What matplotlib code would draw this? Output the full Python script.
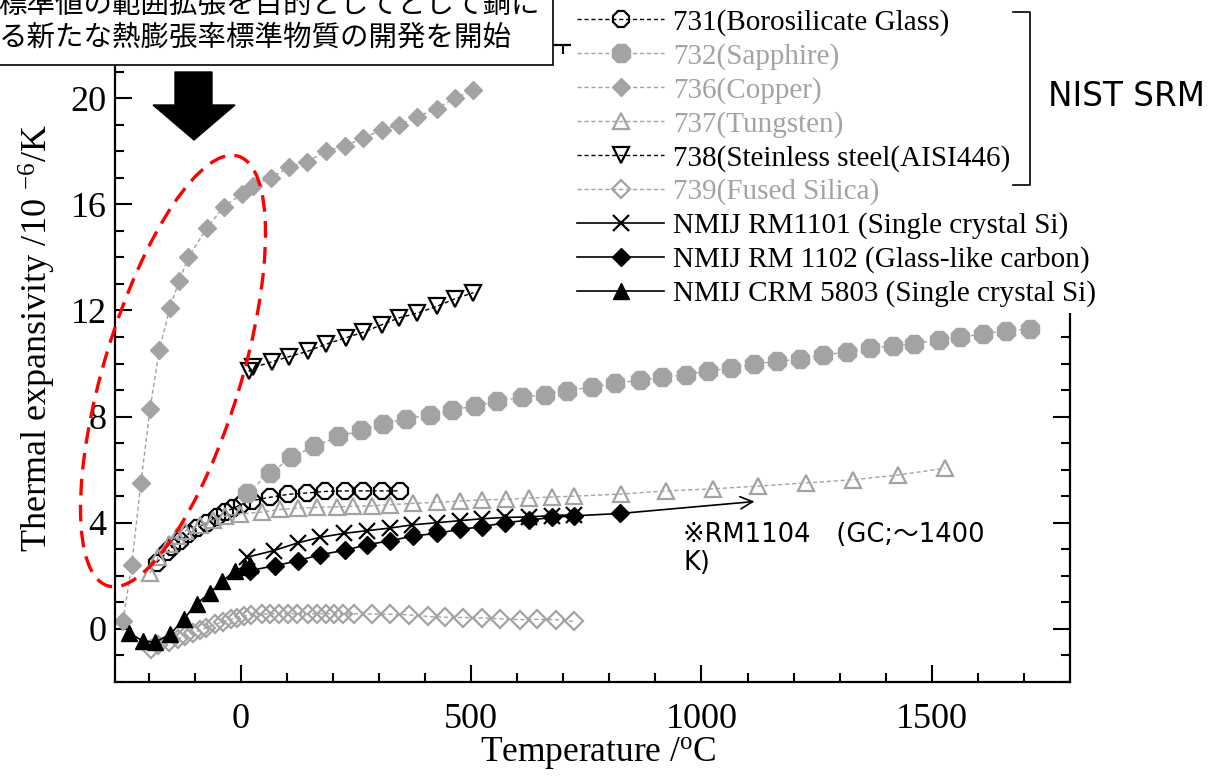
import numpy as np
import matplotlib
matplotlib.use('Agg')
import matplotlib.pyplot as plt
from matplotlib.lines import Line2D
from matplotlib.patches import Rectangle, Ellipse, Polygon

plt.rcParams['font.family'] = ['Liberation Serif', 'Noto Sans CJK JP']
plt.rcParams['mathtext.fontset'] = 'custom'
plt.rcParams['mathtext.rm'] = 'Liberation Serif'
plt.rcParams['mathtext.it'] = 'Liberation Serif:italic'

# ---- data ----
# NIST SRM 731 borosilicate glass
T_731 = [-183, -161, -150, -132, -114, -96, -74, -52, -34, -16, 2, 24, 63, 103, 143, 183, 226, 266, 306, 346]
a_731 = [2.5, 2.88, 3.07, 3.32, 3.57, 3.8, 4.0, 4.2, 4.4, 4.55, 4.7, 4.83, 4.96, 5.07, 5.12, 5.18, 5.2, 5.2, 5.2, 5.2]

# NIST SRM 732 sapphire
T_732 = [13, 63, 110, 159, 212, 261, 308, 359, 411, 459, 508, 557, 610, 660, 707, 762, 813, 866, 915, 966,
         1015, 1064, 1113, 1165, 1214, 1263, 1316, 1365, 1415, 1462, 1515, 1562, 1611, 1660, 1714]
a_732 = [5.12, 5.86, 6.46, 6.88, 7.25, 7.48, 7.72, 7.92, 8.06, 8.26, 8.39, 8.58, 8.73, 8.83, 8.98, 9.11, 9.25, 9.37, 9.48, 9.57,
         9.73, 9.82, 9.98, 10.08, 10.17, 10.33, 10.42, 10.57, 10.67, 10.73, 10.9, 10.99, 11.11, 11.24, 11.3]

# NIST SRM 736 copper
T_736 = [-256, -237, -217, -197, -177, -154, -134, -114, -74, -37, 3, 27, 65, 105, 144, 184, 226, 266, 306, 344, 383, 425, 465, 505]
a_736 = [0.3, 2.4, 5.5, 8.3, 10.5, 12.1, 13.1, 14.0, 15.1, 15.9, 16.4, 16.7, 17.0, 17.4, 17.6, 18.0, 18.2, 18.5, 18.8, 19.0, 19.3, 19.6, 20.0, 20.3]

# NIST SRM 737 tungsten
T_737 = [-197, -179, -157, -139, -121, -89, -60, -34, -2, 45, 85, 125, 165, 208, 244, 284, 324, 374, 425, 476,
         523, 575, 626, 675, 723, 825, 924, 1026, 1123, 1226, 1329, 1427, 1528]
a_737 = [2.1, 2.7, 3.2, 3.5, 3.7, 3.9, 4.1, 4.25, 4.33, 4.4, 4.5, 4.55, 4.58, 4.6, 4.62, 4.64, 4.68, 4.73, 4.77, 4.82,
         4.86, 4.88, 4.93, 4.97, 5.0, 5.08, 5.2, 5.28, 5.38, 5.5, 5.62, 5.8, 6.05]

# NIST SRM 738 stainless steel
T_738 = [17, 27, 67, 105, 145, 184, 228, 266, 306, 343, 383, 425, 465, 505]
a_738 = [9.7, 9.85, 10.06, 10.26, 10.46, 10.72, 10.97, 11.18, 11.46, 11.72, 11.9, 12.15, 12.44, 12.67]

# NIST SRM 739 fused silica
T_739 = [-194, -180, -156, -137, -121, -103, -89, -75, -56, -39, -22, -8, 7, 21, 45, 64, 83, 102, 122, 146,
         165, 184, 203, 222, 246, 284, 324, 364, 407, 443, 483, 523, 563, 605, 644, 684, 723]
a_739 = [-0.75, -0.62, -0.5, -0.38, -0.26, -0.14, -0.05, 0.05, 0.17, 0.27, 0.36, 0.43, 0.49, 0.53, 0.56, 0.57, 0.57, 0.57, 0.57, 0.57,
         0.57, 0.57, 0.57, 0.57, 0.57, 0.56, 0.55, 0.53, 0.47, 0.44, 0.43, 0.42, 0.38, 0.35, 0.36, 0.35, 0.28]

# NMIJ RM1101 single crystal Si
T_1101 = [13, 71, 125, 172, 224, 273, 324, 371, 425, 476, 523, 573, 625, 675, 723]
a_1101 = [2.7, 2.95, 3.25, 3.45, 3.6, 3.7, 3.8, 3.92, 4.0, 4.08, 4.15, 4.2, 4.22, 4.27, 4.3]

# NMIJ RM1102 glass-like carbon
T_1102 = [20, 74, 125, 172, 226, 273, 324, 373, 425, 476, 523, 573, 626, 675, 723, 824]
a_1102 = [2.2, 2.38, 2.57, 2.8, 2.96, 3.17, 3.32, 3.5, 3.6, 3.75, 3.85, 4.0, 4.1, 4.2, 4.26, 4.35]

# NMIJ CRM5803 single crystal Si
T_5803 = [-243, -213, -186, -153, -124, -96, -68, -40, -12, 8, 20]
a_5803 = [-0.15, -0.45, -0.5, -0.2, 0.37, 0.95, 1.35, 1.8, 2.2, 2.35, 2.4]

labels = ['731(Borosilicate Glass)', '732(Sapphire)', '736(Copper)', '737(Tungsten)',
          '738(Steinless steel(AISI446)', '739(Fused Silica)',
          'NMIJ RM1101 (Single crystal Si)', 'NMIJ RM 1102 (Glass-like carbon)',
          'NMIJ CRM 5803 (Single crystal Si)']

GRAY = '#a3a3a3'
DASH = (0, (3, 2))

W, H = 1221, 776
fig = plt.figure(figsize=(W / 100, H / 100), dpi=100)
ax = fig.add_axes([115 / W, 1 - 682 / H, 955 / W, 637 / H])


def fx(x, y):
    # pixel position (from top-left) -> figure fraction
    return x / W, 1 - y / H


styles = [
    dict(color='black', ls=DASH, lw=1, marker='8', ms=12, mfc='none', mec='black', mew=1.6),
    dict(color=GRAY, ls=DASH, lw=1, marker='8', ms=14, mfc=GRAY, mec=GRAY),
    dict(color=GRAY, ls=DASH, lw=1, marker='D', ms=9.5, mfc=GRAY, mec=GRAY),
    dict(color=GRAY, ls=DASH, lw=1, marker='^', ms=12, mfc='none', mec=GRAY, mew=1.6),
    dict(color='black', ls=DASH, lw=1, marker='v', ms=12, mfc='none', mec='black', mew=1.6),
    dict(color=GRAY, ls=DASH, lw=1, marker='D', ms=9, mfc='none', mec=GRAY, mew=1.6),
    dict(color='black', ls='-', lw=1.2, marker='x', ms=12, mec='black', mew=1.6),
    dict(color='black', ls='-', lw=1.2, marker='D', ms=9, mfc='black', mec='black'),
    dict(color='black', ls='-', lw=1.2, marker='^', ms=12, mfc='black', mec='black'),
]
series = [(T_731, a_731), (T_732, a_732), (T_736, a_736), (T_737, a_737), (T_738, a_738),
          (T_739, a_739), (T_1101, a_1101), (T_1102, a_1102), (T_5803, a_5803)]

for (t, a), st in zip(series, styles):
    ax.plot(t, a, clip_on=False, **st)

ax.set_xlim(-273.15, 1800)
ax.set_ylim(-2, 22)
ax.set_xticks([0, 500, 1000, 1500])
ax.set_xticks(np.arange(-200, 1800, 100), minor=True)
ax.set_yticks([0, 4, 8, 12, 16, 20])
ax.set_yticks(np.arange(-2, 23, 1), minor=True)
ax.tick_params(which='both', direction='in', right=True, top=True, width=1.5, labelsize=26)
ax.tick_params(which='major', length=12)
ax.tick_params(which='minor', length=6.5)
ax.tick_params(axis='x', pad=15)
ax.tick_params(axis='y', pad=6)
for s in ax.spines.values():
    s.set_linewidth(1.6)

ax.set_xlabel('Temperature /$^{\\mathrm{o}}$C', fontsize=25.5)
ax.set_ylabel('Thermal expansivity /10 $^{-6}$/K', fontsize=26)
ax.xaxis.set_label_coords(0.5 + 6 / 955, (682 - 735) / 637)
ax.yaxis.set_label_coords((58 - 115) / 955, (682 - 338) / 637)

# RM1104 arrow and note
ax.annotate('', xy=(1115, 4.8), xytext=(T_1102[-1], a_1102[-1]),
            arrowprops=dict(arrowstyle='->', color='black', lw=1.2, mutation_scale=22,
                            shrinkA=0, shrinkB=0))
fig.text(*fx(683, 522), '※RM1104\u3000(GC;～1400\nK)', fontsize=18.5, va='top', ha='left',
         family=['DejaVu Sans', 'Noto Sans CJK JP'], linespacing=1.1)

# legend
handles = [Line2D([], [], **st) for st in styles]
lcolors = ['black', GRAY, GRAY, GRAY, 'black', GRAY, 'black', 'black', 'black']
leg = ax.legend(handles, labels, loc='upper left', bbox_to_anchor=fx(571, 3),
                bbox_transform=fig.transFigure, prop={'family': 'Liberation Serif', 'size': 21},
                labelcolor=lcolors, handlelength=3.0, handletextpad=0.3, labelspacing=0.24,
                borderpad=0.2, borderaxespad=0, numpoints=1, frameon=True, fancybox=False,
                facecolor='white', edgecolor='none', framealpha=1)
leg.set_zorder(20)

# bracket + NIST SRM
bx = [1013, 1030, 1030, 1013]
by = [12, 12, 185, 185]
fig.add_artist(Line2D([x / W for x in bx], [1 - y / H for y in by], color='black', lw=1.2, zorder=30))
fig.text(*fx(1048, 97), 'NIST SRM', fontsize=23.5, family='DejaVu Sans', va='center', ha='left', zorder=30)

# Japanese text box at top-left (cut off by the figure edge)
x0, y0 = fx(-5, 65)
fig.add_artist(Rectangle((x0, y0), 558 / W, 75 / H, transform=fig.transFigure,
                         facecolor='white', edgecolor='black', lw=1.2, zorder=40))
fig.text(*fx(540, 5), '標準値の範囲拡張を目的としてとして銅に', fontsize=20.5,
         family='Noto Sans CJK JP', ha='right', va='center', zorder=41)
fig.text(*fx(512, 38), 'る新たな熱膨張率標準物質の開発を開始', fontsize=20.5,
         family='Noto Sans CJK JP', ha='right', va='center', zorder=41)

# big black arrow pointing down
arrow_px = [(175, 72), (212, 72), (212, 105), (235, 105), (194, 140), (153, 105), (175, 105)]
fig.add_artist(Polygon([fx(x, y) for x, y in arrow_px], closed=True, transform=fig.transFigure,
                       facecolor='black', edgecolor='black', zorder=35))

# red dashed ellipse around low-temperature copper data
fig.add_artist(Ellipse((1.73, (H - 371) / 100), width=4.49, height=1.37, angle=73.1,
                       transform=fig.dpi_scale_trans, fill=False, edgecolor='red',
                       lw=2.4, ls=(0, (5, 2.8)), zorder=35))

fig.savefig('out.png', dpi=100)
